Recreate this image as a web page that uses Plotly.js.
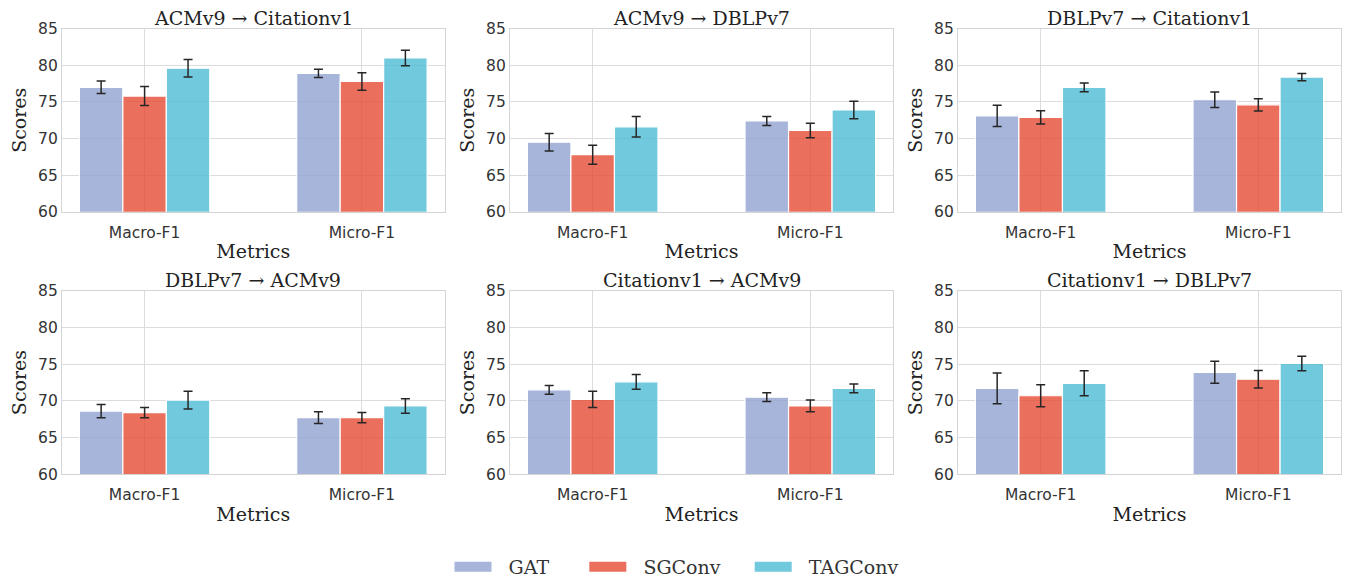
<!DOCTYPE html>
<html>
<head>
<meta charset="utf-8">
<script src="https://cdn.plot.ly/plotly-3.0.1.min.js"></script>
<style>html,body{margin:0;padding:0;background:#fff;}#chart{width:1354px;height:586px;}</style>
</head>
<body>
<div id="chart"></div>
<script>
const categories = ['Macro-F1', 'Micro-F1'];
const panelTitles = ['ACMv9 → Citationv1', 'ACMv9 → DBLPv7', 'DBLPv7 → Citationv1',
                     'DBLPv7 → ACMv9', 'Citationv1 → ACMv9', 'Citationv1 → DBLPv7'];
const models = ['GAT', 'SGConv', 'TAGConv'];

const gatMean     = [[77.0, 78.9], [69.5, 72.4], [73.1, 75.3], [68.6, 67.7], [71.5, 70.5], [71.7, 73.9]];
const gatStd      = [[0.85, 0.55], [1.2, 0.6], [1.45, 1.05], [0.9, 0.8], [0.6, 0.6], [2.1, 1.5]];
const sgconvMean  = [[75.8, 77.8], [67.8, 71.1], [72.9, 74.6], [68.4, 67.7], [70.2, 69.3], [70.7, 72.95]];
const sgconvStd   = [[1.3, 1.2], [1.3, 1.0], [0.9, 0.85], [0.7, 0.7], [1.1, 0.8], [1.5, 1.2]];
const tagconvMean = [[79.6, 81.0], [71.6, 73.9], [77.0, 78.4], [70.1, 69.3], [72.6, 71.7], [72.4, 75.1]];
const tagconvStd  = [[1.2, 1.05], [1.4, 1.2], [0.6, 0.5], [1.2, 1.0], [1.0, 0.6], [1.7, 1.0]];

const colors = ['rgba(145,163,210,0.8)', 'rgba(230,75,53,0.8)', 'rgba(77,187,213,0.8)'];
const means = [gatMean, sgconvMean, tagconvMean];
const stds = [gatStd, sgconvStd, tagconvStd];

const W = 1354, H = 586;
const colX = [[62, 444.5], [510, 893], [958, 1341]];
const rowY = [[29, 214], [294, 479]];

const traces = [];
const layout = {
  width: W, height: H,
  margin: {l: 0, r: 0, t: 0, b: 0},
  paper_bgcolor: '#ffffff', plot_bgcolor: '#ffffff',
  barmode: 'group', bargap: 0.4, bargroupgap: 0,
  showlegend: true,
  legend: {orientation: 'h', x: 0.5, xanchor: 'center', y: 1 - 573 / H, yanchor: 'middle',
           font: {family: 'DejaVu Serif', size: 19, color: '#333333'}, itemwidth: 37,
           traceorder: 'normal'},
  annotations: []
};

for (let p = 0; p < 6; p++) {
  const r = Math.floor(p / 3), c = p % 3;
  const ax = p === 0 ? '' : String(p + 1);
  for (let m = 0; m < 3; m++) {
    traces.push({
      type: 'bar', name: models[m], x: categories, y: means[m][p],
      xaxis: 'x' + ax, yaxis: 'y' + ax,
      legendgroup: models[m], showlegend: false,
      marker: {color: colors[m], line: {color: '#ffffff', width: 1.2}},
      error_y: {type: 'data', array: stds[m][p], visible: true, color: '#262626', thickness: 1.5, width: 4.5},
      hoverinfo: 'x+y+name'
    });
  }
  const xd = [colX[c][0] / W, colX[c][1] / W];
  const yd = [1 - rowY[r][1] / H, 1 - rowY[r][0] / H];
  layout['xaxis' + ax] = {
    domain: xd, anchor: 'y' + ax, range: [-0.38, 1.38], type: 'category',
    showgrid: true, gridcolor: '#dcdcdc', gridwidth: 1,
    showline: true, linecolor: '#d4d4d4', linewidth: 1.2, mirror: true,
    ticks: '', ticklabelstandoff: 6, tickfont: {family: 'DejaVu Sans', size: 15.5, color: '#333333'},
    title: {text: 'Metrics', font: {family: 'DejaVu Serif', size: 19, color: '#222222'}, standoff: 4},
    automargin: false, fixedrange: true, zeroline: false
  };
  layout['yaxis' + ax] = {
    domain: yd, anchor: 'x' + ax, range: [60, 85], dtick: 5, tick0: 60,
    showgrid: true, gridcolor: '#dcdcdc', gridwidth: 1,
    showline: true, linecolor: '#d4d4d4', linewidth: 1.2, mirror: true,
    ticks: '', tickfont: {family: 'DejaVu Sans', size: 15.5, color: '#333333'},
    title: {text: 'Scores', font: {family: 'DejaVu Serif', size: 19, color: '#222222'}, standoff: 6},
    automargin: false, fixedrange: true, zeroline: false
  };
  layout.annotations.push({
    text: panelTitles[p], xref: 'paper', yref: 'paper',
    x: (xd[0] + xd[1]) / 2, y: yd[1], xanchor: 'center', yanchor: 'bottom', yshift: -2,
    showarrow: false, font: {family: 'DejaVu Serif', size: 19, color: '#222222'}
  });
}

// legend-only entries drawn as wide swatches (padding spaces mimic the reference spacing)
const pad = '\u00a0\u00a0';
const tails = ['\u00a0\u00a0\u00a0\u00a0\u00a0', '\u00a0\u00a0\u00a0\u00a0', ''];
for (let m = 0; m < 3; m++) {
  traces.push({
    type: 'scatter', mode: 'lines', name: pad + models[m] + tails[m], x: [null], y: [null],
    line: {color: colors[m], width: 12}, legendgroup: models[m], showlegend: true,
    hoverinfo: 'skip'
  });
}

Plotly.newPlot('chart', traces, layout, {displayModeBar: false});
</script>
</body>
</html>
